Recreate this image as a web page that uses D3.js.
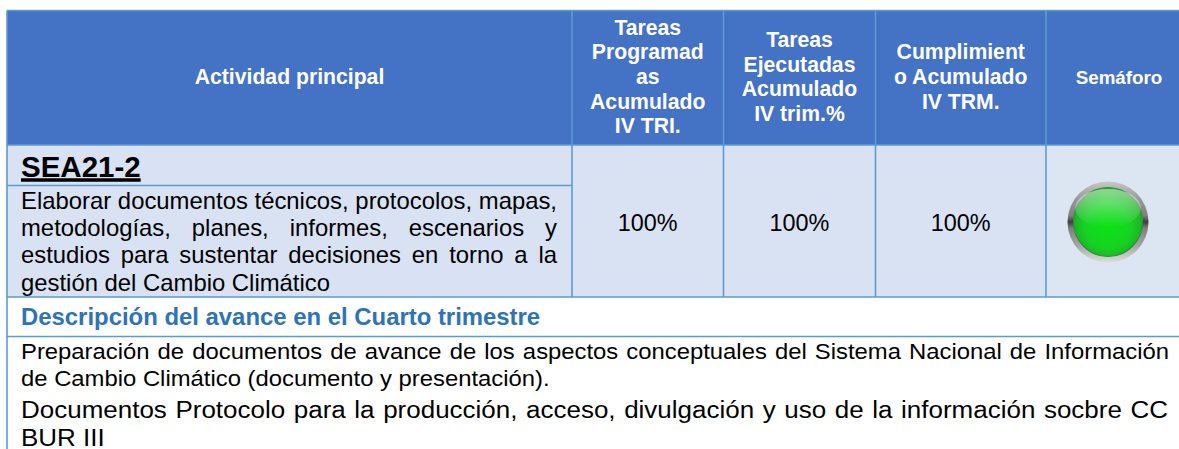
<!DOCTYPE html>
<html>
<head>
<meta charset="utf-8">
<script src="https://cdnjs.cloudflare.com/ajax/libs/d3/7.8.5/d3.min.js"></script>
<style>
    html, body { margin: 0; padding: 0; background: #fff; overflow: hidden; }
    text { font-family: "Liberation Sans", Arial, sans-serif; }
</style>
</head>
<body>
<svg id="chart"></svg>
<script>
// Table contents
const columns = ["actividad", "programadas", "ejecutadas", "cumplimiento", "semaforo"];
const headerLines = [
    ["Actividad principal"],
    ["Tareas", "Programad", "as", "Acumulado", "IV TRI."],
    ["Tareas", "Ejecutadas", "Acumulado", "IV trim.%"],
    ["Cumplimient", "o Acumulado", "IV TRM."],
    ["Semáforo"]
];
const activityCode = "SEA21-2";
const activityLines = [
    "Elaborar documentos técnicos, protocolos, mapas,",
    "metodologías, planes, informes, escenarios y",
    "estudios para sustentar decisiones en torno a la",
    "gestión del Cambio Climático"
];
const percentValues = [100, 100, 100];
const sectionTitle = "Descripción del avance en el Cuarto trimestre";
const descriptionLines = [
    "Preparación de documentos de avance de los aspectos conceptuales del Sistema Nacional de Información",
    "de Cambio Climático (documento y presentación)."
];
const protocolLines = [
    "Documentos Protocolo para la producción, acceso, divulgación y uso de la información socbre CC",
    "BUR III"
];

const width = 1179, height = 449;
const svg = d3.select("#chart").attr("width", width).attr("height", height);

// Column and row edges, the table runs off the right side of the picture
const colEdge = d3.scaleOrdinal()
    .domain([...columns, "end"])
    .range([7, 572, 723.5, 875.5, 1046, 1192]);
const rowY = { top: 10.5, head: 145, code: 185.5, body: 297, section: 336.5, bottom: 449 };
const cx = c => (colEdge(c) + colEdge(columns[columns.indexOf(c) + 1] || "end")) / 2;

const blue = "#4472c4", pale = "#d9e2f3", line = "#5b9bd5";

// Gradients for the traffic light
const defs = svg.append("defs");
const ring = defs.append("linearGradient").attr("id", "ring")
    .attr("x1", 0).attr("y1", 0).attr("x2", 0).attr("y2", 1);
[[0, "#c8c8c5"], [0.2, "#9a9c9c"], [0.42, "#7f8181"], [0.5, "#3c3f3e"], [0.58, "#7f8181"], [0.8, "#a6a8a8"], [1, "#dededc"]]
    .forEach(s => ring.append("stop").attr("offset", s[0]).attr("stop-color", s[1]));
const glow = defs.append("radialGradient").attr("id", "glow")
    .attr("cx", 0.5).attr("cy", 0.55).attr("r", 0.55);
[[0, "#08e312"], [0.6, "#16d322"], [1, "#1ea72b"]]
    .forEach(s => glow.append("stop").attr("offset", s[0]).attr("stop-color", s[1]));
const shine = defs.append("linearGradient").attr("id", "shine")
    .attr("x1", 0).attr("y1", 0).attr("x2", 0).attr("y2", 1);
[[0, "#ffffff", 0.5], [1, "#ffffff", 0]]
    .forEach(s => shine.append("stop").attr("offset", s[0]).attr("stop-color", s[1]).attr("stop-opacity", s[2]));

// Fills
svg.append("rect").attr("x", colEdge("actividad")).attr("y", rowY.top)
    .attr("width", colEdge("end") - colEdge("actividad")).attr("height", rowY.head - rowY.top)
    .attr("fill", blue);
svg.append("rect").attr("x", colEdge("actividad")).attr("y", rowY.head)
    .attr("width", colEdge("end") - colEdge("actividad")).attr("height", rowY.body - rowY.head)
    .attr("fill", pale);
svg.append("rect").attr("x", colEdge("semaforo")).attr("y", rowY.head)
    .attr("width", colEdge("end") - colEdge("semaforo")).attr("height", rowY.body - rowY.head)
    .attr("fill", "#dce6f2");

// Grid lines
const rule = (x1, y1, x2, y2) => svg.append("line")
    .attr("x1", x1).attr("y1", y1).attr("x2", x2).attr("y2", y2)
    .attr("stroke", line).attr("stroke-width", 1.6);

["top", "head", "body", "section"].forEach(k => rule(colEdge("actividad"), rowY[k], colEdge("end"), rowY[k]));
rule(colEdge("actividad"), rowY.code, colEdge("programadas"), rowY.code);
rule(colEdge("actividad"), rowY.top, colEdge("actividad"), rowY.bottom);
columns.slice(1).forEach(c => rule(colEdge(c), rowY.top, colEdge(c), rowY.body));

// Header text
const headerSize = [21.2, 21.2, 21.2, 21.2, 18.8];
columns.forEach((c, i) => {
    const lines = headerLines[i];
    const lead = 24.6;
    const y0 = 77 - (lines.length - 1) * lead / 2 + 7;
    svg.append("g").selectAll("text")
        .data(lines)
        .join("text")
        .attr("x", cx(c))
        .attr("y", (d, j) => y0 + j * lead)
        .attr("text-anchor", "middle")
        .attr("font-size", headerSize[i])
        .attr("font-weight", "bold")
        .attr("fill", "#fff")
        .text(d => d);
});

// Write lines of text, stretched sideways by sx and justified to a width when asked
function writeLines(lines, x, ys, size, justifyTo, sx) {
    lines.forEach((d, j) => {
        const t = svg.append("text")
            .attr("transform", `translate(${x},${ys[j]}) scale(${sx},1)`)
            .attr("font-size", size).attr("fill", "#000").text(d);
        if (justifyTo[j]) {
            const gaps = d.split(" ").length - 1;
            t.attr("word-spacing", (justifyTo[j] / sx - t.node().getComputedTextLength()) / gaps);
        }
    });
}

// Activity cell
const code = svg.append("text").attr("x", 21).attr("y", 177)
    .attr("font-size", 29.5).attr("font-weight", "bold").attr("fill", "#000")
    .text(activityCode);
svg.append("line").attr("x1", 21).attr("x2", 21 + code.node().getComputedTextLength())
    .attr("y1", 180).attr("y2", 180)
    .attr("stroke", "#000").attr("stroke-width", 3.6);
writeLines(activityLines, 21, [209, 236, 263, 291], 23.4, [536, 536, 536, 0], 1.02);

// Percentages
svg.append("g").selectAll("text")
    .data(percentValues)
    .join("text")
    .attr("x", (d, i) => cx(columns[i + 1]))
    .attr("y", 231)
    .attr("text-anchor", "middle")
    .attr("font-size", 23.4)
    .attr("fill", "#000")
    .text(d => d + "%");

// Traffic light
const light = svg.append("g").attr("transform", `translate(${cx("semaforo") - 11},222)`);
light.append("circle").attr("r", 40.5).attr("fill", "url(#ring)");
light.append("circle").attr("r", 34.5).attr("fill", "url(#glow)").attr("stroke", "#2f8f3a").attr("stroke-width", 1.2);
light.append("ellipse").attr("cy", -14).attr("rx", 33).attr("ry", 19).attr("fill", "url(#shine)");

// Section title and description
svg.append("text").attr("x", 21).attr("y", 325)
    .attr("font-size", 23.9).attr("font-weight", "bold").attr("fill", "#2e74b5")
    .text(sectionTitle);
writeLines(descriptionLines, 21, [359, 386], 22.5, [1148, 0], 1.06);
writeLines(protocolLines, 21, [418, 446], 23, [1147, 0], 1.13);
</script>
</body>
</html>
